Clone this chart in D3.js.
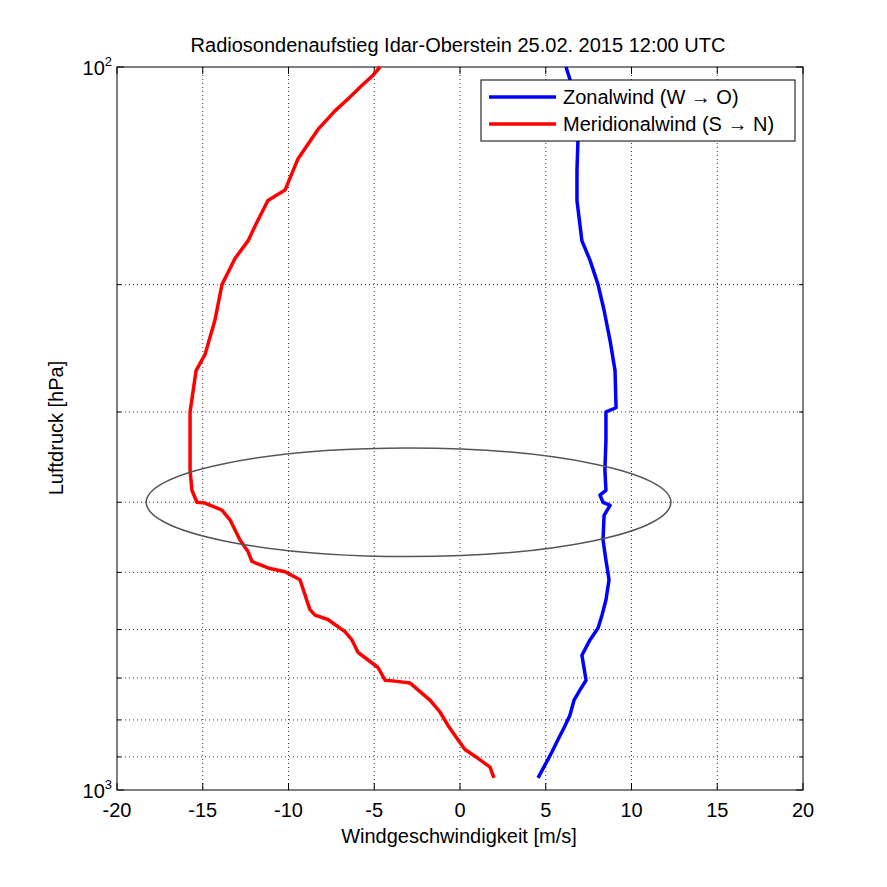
<!DOCTYPE html>
<html><head><meta charset="utf-8">
<script src="https://cdn.jsdelivr.net/npm/d3@7"></script>
<style>body{margin:0;background:#fff}text{font-family:"Liberation Sans",Arial,sans-serif}</style>
</head><body>
<script>
// Zonalwind (blue): pressure [hPa], speed [m/s]
const zonalP = [962,923,886,852,821,788,751,727,705,651,620,597,573,546,512,481,451,417,404,400,391,385,361,328,300,296,263,239,217,200,185,174,153,139,126,115,104,100];
const zonalU = [4.55,4.96,5.36,5.71,6.06,6.41,6.65,7.0,7.35,7.11,7.58,8.05,8.28,8.51,8.69,8.51,8.34,8.4,8.75,8.34,8.16,8.51,8.45,8.51,8.51,9.1,9.04,8.75,8.4,8.05,7.58,7.11,6.82,6.82,6.88,6.76,6.41,6.18];
// Meridionalwind (red)
const meridP = [962,930,904,879,852,814,780,751,727,711,707,705,677,661,645,620,604,581,573,563,512,499,494,483,468,451,423,410,401,400,385,361,328,300,263,250,224,200,184,174,165,153,148,134,122,115,110,106,103,100];
const meridV = [1.98,1.75,1.05,0.29,-0.12,-0.70,-1.17,-1.75,-2.45,-2.92,-3.79,-4.37,-4.78,-5.36,-5.95,-6.30,-6.71,-7.70,-8.45,-8.75,-9.33,-10.2,-11.08,-12.13,-12.36,-12.83,-13.41,-13.88,-14.87,-15.34,-15.63,-15.74,-15.74,-15.74,-15.39,-14.87,-14.29,-13.88,-13.12,-12.36,-11.9,-11.2,-10.2,-9.45,-8.28,-7.29,-6.41,-5.71,-5.13,-4.66];
const xTicks = [-20,-15,-10,-5,0,5,10,15,20];
const yGrid = [100,200,300,400,500,600,700,800,900,1000];
// ellipse: centre (-3 m/s, 400 hPa), from -18.3 to 12.3 m/s, 334..472 hPa
const ell = {cx:-3, cp:400, x1:12.3, pTop:334, pBot:472};

const W=887,H=887,L=117,R=803,T=67,B=790;
const svg=d3.select("body").append("svg").attr("width",W).attr("height",H);
const x=d3.scaleLinear().domain([-20,20]).range([L,R]);
const y=d3.scaleLog().domain([100,1000]).range([T,B]);

// grid
const g=svg.append("g").attr("stroke","#000").attr("stroke-width",0.8).attr("stroke-dasharray","1,3");
xTicks.slice(1,-1).forEach(v=>g.append("line").attr("x1",x(v)).attr("x2",x(v)).attr("y1",T).attr("y2",B));
yGrid.slice(1,-1).forEach(v=>g.append("line").attr("x1",L).attr("x2",R).attr("y1",y(v)).attr("y2",y(v)));

svg.append("rect").attr("x",L).attr("y",T).attr("width",R-L).attr("height",B-T).attr("fill","none").attr("stroke","#000");
// ticks
const tk=svg.append("g").attr("stroke","#000");
xTicks.forEach(v=>{tk.append("line").attr("x1",x(v)).attr("x2",x(v)).attr("y1",B).attr("y2",B-7);
  tk.append("line").attr("x1",x(v)).attr("x2",x(v)).attr("y1",T).attr("y2",T+7);});
yGrid.forEach(v=>{const len=(v===100||v===1000)?7:4;
  tk.append("line").attr("x1",L).attr("x2",L+len).attr("y1",y(v)).attr("y2",y(v));
  tk.append("line").attr("x1",R).attr("x2",R-len).attr("y1",y(v)).attr("y2",y(v));});
xTicks.forEach(v=>svg.append("text").attr("x",x(v)).attr("y",B+27).attr("text-anchor","middle").attr("font-size",20).text(v));
[[100,"2"],[1000,"3"]].forEach(([v,e])=>{
  const t=svg.append("text").attr("x",L-5).attr("y",y(v)+8).attr("text-anchor","end").attr("font-size",20);
  t.append("tspan").text("10"); t.append("tspan").attr("dy",-9).attr("font-size",13).text(e);});

// curves
const line=d3.line();
svg.append("path").attr("d",line(zonalP.map((p,i)=>[x(zonalU[i]),y(p)]))).attr("fill","none").attr("stroke","#0000ff").attr("stroke-width",3.5).attr("stroke-linejoin","round");
svg.append("path").attr("d",line(meridP.map((p,i)=>[x(meridV[i]),y(p)]))).attr("fill","none").attr("stroke","#ff0000").attr("stroke-width",3.5).attr("stroke-linejoin","round");

// ellipse
svg.append("ellipse").attr("cx",x(ell.cx)).attr("cy",y(ell.cp)).attr("rx",x(ell.x1)-x(ell.cx))
  .attr("ry",(y(ell.pBot)-y(ell.pTop))/2).attr("fill","none").attr("stroke","#555").attr("stroke-width",1.5);

// legend
const lg=svg.append("g");
lg.append("rect").attr("x",481).attr("y",80).attr("width",314).attr("height",61).attr("fill","#fff").attr("stroke","#000");
[["Zonalwind (W \u2192 O)","#0000ff"],["Meridionalwind (S \u2192 N)","#ff0000"]].forEach(([t,c],i)=>{
  const yy=97+i*27;
  lg.append("line").attr("x1",489).attr("x2",556).attr("y1",yy).attr("y2",yy).attr("stroke",c).attr("stroke-width",3.5);
  lg.append("text").attr("x",563).attr("y",yy+7).attr("font-size",20).text(t);});

svg.append("text").attr("x",458).attr("y",52).attr("text-anchor","middle").attr("font-size",20).text("Radiosondenaufstieg Idar-Oberstein 25.02. 2015 12:00 UTC");
svg.append("text").attr("x",459).attr("y",843).attr("text-anchor","middle").attr("font-size",20).text("Windgeschwindigkeit [m/s]");
svg.append("text").attr("transform","translate(63,428) rotate(-90)").attr("text-anchor","middle").attr("font-size",20).text("Luftdruck [hPa]");
</script>
</body></html>
